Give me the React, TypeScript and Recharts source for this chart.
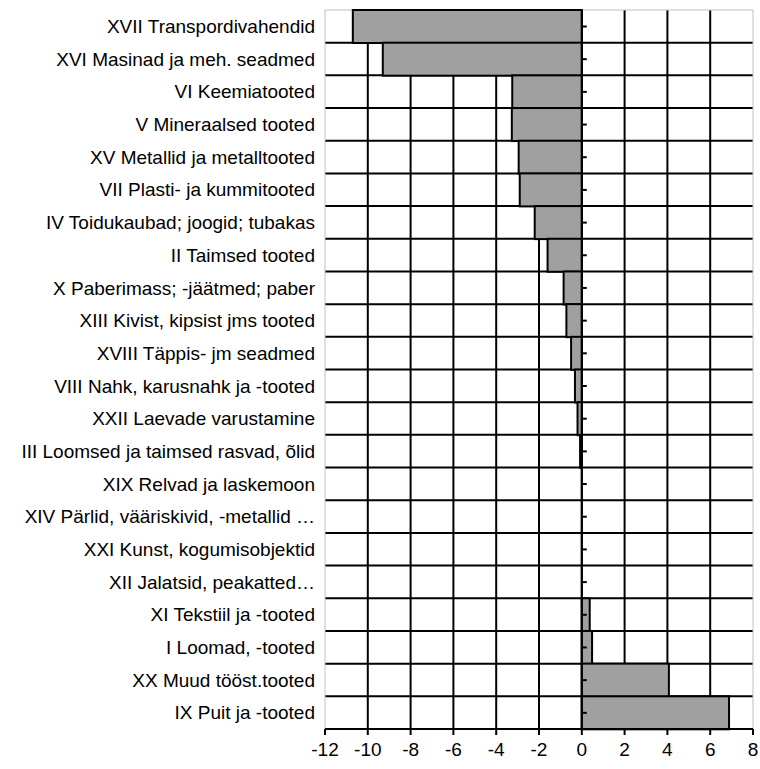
import { BarChart, Bar, XAxis, YAxis, CartesianGrid, ReferenceLine, ReferenceArea } from 'recharts'

const categories = [
  'XVII Transpordivahendid',
  'XVI Masinad ja meh. seadmed',
  'VI Keemiatooted',
  'V Mineraalsed tooted',
  'XV Metallid ja metalltooted',
  'VII Plasti- ja kummitooted',
  'IV Toidukaubad; joogid; tubakas',
  'II Taimsed tooted',
  'X Paberimass; -jäätmed; paber',
  'XIII Kivist, kipsist jms tooted',
  'XVIII Täppis- jm seadmed',
  'VIII Nahk, karusnahk ja -tooted',
  'XXII Laevade varustamine',
  'III Loomsed ja taimsed rasvad, õlid',
  'XIX Relvad ja laskemoon',
  'XIV Pärlid, vääriskivid, -metallid …',
  'XXI Kunst, kogumisobjektid',
  'XII Jalatsid, peakatted…',
  'XI Tekstiil ja -tooted',
  'I Loomad, -tooted',
  'XX Muud tööst.tooted',
  'IX Puit ja -tooted',
]

const values = [
  -10.7, -9.3, -3.25, -3.27, -2.95, -2.9, -2.2, -1.6, -0.85, -0.72, -0.5,
  -0.32, -0.2, -0.08, 0, 0, 0, 0, 0.37, 0.48, 4.07, 6.88,
]

const xTicks = [-12, -10, -8, -6, -4, -2, 0, 2, 4, 6, 8]
const innerTicks = [-10, -8, -6, -4, -2, 0, 2, 4, 6]

const data = categories.map((name, i) => ({ name, value: values[i] }))

const font = '"Liberation Sans", Arial, sans-serif'

// bar rectangle plus the small tick mark on the zero axis
function BarShape(props: any) {
  const { x, y, width, height, payload } = props
  const left = Math.min(x, x + width)
  const w = Math.abs(width)
  const zeroX = payload.value < 0 ? left + w : left
  return (
    <g>
      {w > 0 && (
        <rect x={left} y={y} width={w} height={height} fill="#a0a0a0" stroke="#000" strokeWidth={2} />
      )}
      <line x1={zeroX} x2={zeroX + 5} y1={y + height / 2} y2={y + height / 2} stroke="#000" strokeWidth={2} />
    </g>
  )
}

export default function App() {
  const rowLines = ({ offset }: any) =>
    categories.map((_, i) => offset.top + ((i + 1) * offset.height) / categories.length)

  return (
    <div style={{ fontFamily: font }}>
      <style>{'body{margin:0}'}</style>
      <BarChart
        width={760}
        height={769}
        data={data}
        layout="vertical"
        barCategoryGap={0}
        barGap={0}
        margin={{ top: 10, right: 7, bottom: 10, left: 0 }}
      >
        <CartesianGrid
          stroke="#000"
          strokeWidth={2}
          verticalValues={innerTicks}
          horizontalCoordinatesGenerator={rowLines}
        />
        <ReferenceArea x1={-12} x2={8} fill="none" stroke="#c0c0c0" strokeWidth={1} />
        <XAxis
          type="number"
          domain={[-12, 8]}
          ticks={xTicks}
          interval={0}
          height={30}
          tickSize={6}
          tickMargin={8}
          stroke="#000"
          axisLine={{ stroke: '#000', strokeWidth: 2 }}
          tickLine={{ stroke: '#000', strokeWidth: 2 }}
          tick={{ fill: '#000', fontSize: 19, fontFamily: font }}
        />
        <YAxis
          type="category"
          dataKey="name"
          width={325}
          interval={0}
          axisLine={false}
          tickLine={false}
          tickSize={6}
          tickMargin={4}
          tick={{ fill: '#000', fontSize: 19, fontFamily: font }}
        />
        <Bar dataKey="value" shape={BarShape} isAnimationActive={false} />
        <ReferenceLine x={0} stroke="#000" strokeWidth={2} />
      </BarChart>
    </div>
  )
}
